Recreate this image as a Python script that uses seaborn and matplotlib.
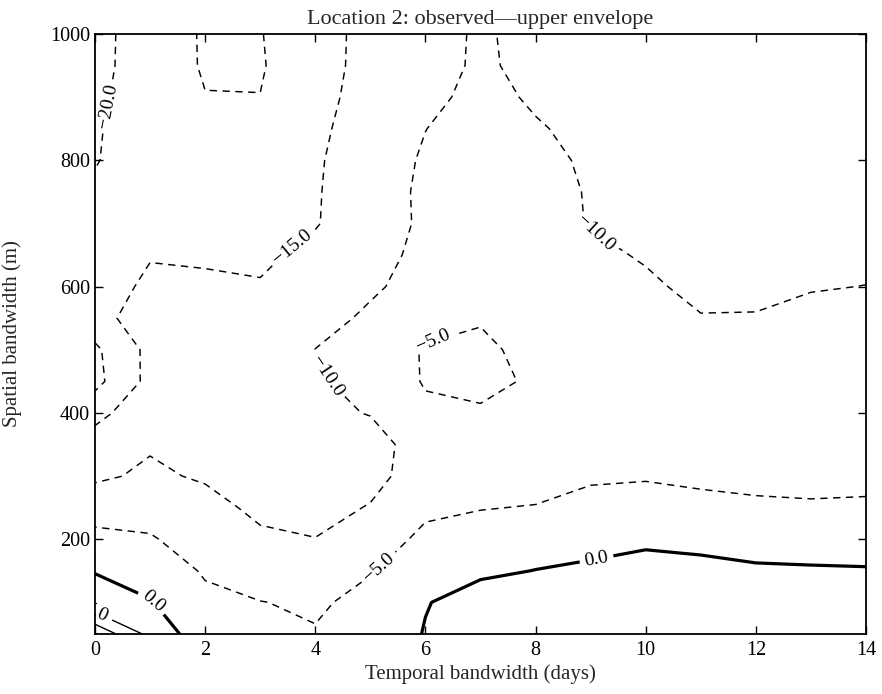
import numpy as np
import matplotlib
matplotlib.use('Agg')
import matplotlib.pyplot as plt
import seaborn as sns

# temporal bandwidth (days) and spatial bandwidth (m) of the grid
days = [0, 1, 2, 3, 4, 5, 6, 7, 8, 9, 10, 11, 12, 13, 14]
bandwidth_m = [50, 100, 150, 200, 250, 300, 350, 400, 450, 500,
               550, 600, 650, 700, 750, 800, 850, 900, 950, 1000]

# observed - upper envelope, one list per temporal bandwidth (bottom to top)
day_0 = [14, 1, -0.1, -3.5, -7.4, -10.7, -12.3, -16.8, -21.4, -20.86, -17, -17.5, -18, -18.5, -19.2, -20.3, -20.6, -21.5, -22, -22]
day_1 = [3.5, 0.3, -2.2, -4.6, -6.8, -9.3, -10.4, -11, -13.6, -13.7, -12, -14.03, -15.3, -16, -16.5, -17, -16.6, -15.9, -16.5, -16.7]
day_2 = [-3, -4, -5.45, -7.1, -8.5, -10.5, -11.2, -11.9, -12.7, -13.4, -14, -14.6, -15.3, -16.5, -17.5, -18.5, -19.2, -19.84, -20.57, -20.6]
day_3 = [-3.5, -4.9, -7.04, -9.2, -11, -11.5, -11.7, -12.3, -12.9, -13.55, -14.2, -14.8, -15.5, -16.5, -17.5, -18.5, -19.3, -19.95, -20.3, -20.1]
day_4 = [-4.73, -5.57, -7.5, -9.95, -10.8, -11.2, -11, -10.5, -10.6, -9.93, -12, -13, -14.3, -15.17, -15.3, -15.6, -16.2, -16.8, -17.5, -18.4]
day_5 = [-3, -3.84, -5.22, -7.3, -9.86, -10.74, -10.9, -9.9, -8.3, -8.1, -9.06, -10.8, -11.5, -13.3, -12.8, -12.07, -12.2, -12.8, -12.95, -12.4]
day_6 = [0.23, -0.2, -3.0, -4.0, -5.85, -8.79, -8.9, -5.86, -4.63, -4.58, -6.68, -7.94, -8.9, -8.9, -8.96, -9.55, -10.05, -11, -11.2, -11.5]
day_7 = [3, 1.62, -0.63, -3.3, -5.15, -6.5, -6.3, -5.4, -4.07, -4.3, -5.27, -6.5, -7.2, -7.5, -7.8, -8.0, -8.4, -8.9, -9.53, -9.5]
day_8 = [3.2, 1.8, 0.07, -1.68, -4.82, -6.62, -7.0, -6.5, -5.48, -6.05, -6.5, -7.0, -7.5, -8.0, -8.5, -9.0, -9.69, -10.47, -10.84, -11.2]
day_9 = [3.3, 2.0, 0.5, -0.97, -3.3, -5.7, -6.5, -6.8, -7.0, -7.3, -7.8, -8.3, -8.92, -10.27, -10.3, -10.54, -10.93, -11.3, -11.6, -11.9]
day_10 = [3.4, 2.3, 1.2, -0.6, -3.5, -5.3, -6.5, -7.2, -7.8, -8.3, -8.8, -9.19, -10.46, -11, -11.3, -11.5, -11.8, -12, -12.2, -12.4]
day_11 = [3.3, 2.2, 0.9, -0.9, -3.6, -6.0, -7.2, -8, -8.7, -9.3, -9.77, -11.2, -11.6, -11.9, -12.1, -12.3, -12.5, -12.7, -12.9, -13]
day_12 = [3.0, 1.8, 0.5, -1.5, -4.2, -6.3, -7.5, -8.3, -8.9, -9.4, -9.8, -10.8, -11.3, -11.7, -12, -12.2, -12.4, -12.6, -12.8, -13]
day_13 = [2.9, 1.7, 0.4, -1.8, -4.5, -6.3, -7.3, -8.0, -8.4, -8.8, -9.09, -10.2, -10.9, -11.3, -11.6, -11.9, -12.1, -12.3, -12.5, -12.7]
day_14 = [2.8, 1.6, 0.3, -2.0, -4.4, -6.1, -7.0, -7.8, -8.4, -9.0, -9.5, -9.95, -10.8, -11.2, -11.5, -11.7, -11.9, -12.1, -12.3, -12.5]

neg_levels = [-20, -15, -10, -5]
zero_level = [0]
pos_levels = [5, 10]

sns.set_style('ticks')
plt.rcParams['font.family'] = ['Liberation Serif', 'DejaVu Serif']
plt.rcParams['lines.dashed_pattern'] = [5.0, 3.8]
plt.rcParams['axes.edgecolor'] = 'black'

grid = np.column_stack([day_0, day_1, day_2, day_3, day_4, day_5, day_6, day_7,
                        day_8, day_9, day_10, day_11, day_12, day_13, day_14])
X, Y = np.meshgrid(days, bandwidth_m)

fig = plt.figure(figsize=(8.82, 6.94), dpi=100)
ax = fig.add_axes([0.1077, 0.0865, 0.8742, 0.8645])


def fmt(v):
    return f'{v:.1f}'.replace('-', '\u2212')


cs = ax.contour(X, Y, grid, levels=neg_levels, colors='k', linewidths=1.05,
                linestyles='dashed')
cs0 = ax.contour(X, Y, grid, levels=zero_level, colors='k', linewidths=2.3)
csp = ax.contour(X, Y, grid, levels=pos_levels, colors='k', linewidths=1.0,
                 linestyles='solid')

ax.clabel(cs, fmt=fmt, fontsize=14, inline=True,
          manual=[(0.25, 885), (3.7, 650), (4.2, 458), (9.1, 685),
                  (6.2, 500), (5.1, 160)])
ax.clabel(cs0, fmt=fmt, fontsize=14, inline=True,
          manual=[(1.0, 97), (9.1, 172)])
ax.clabel(csp, fmt=fmt, fontsize=14, inline=True, manual=[(0.02, 82)])

ax.set_xlim(0, 14)
ax.set_ylim(50, 1000)
ax.set_xticks([0, 2, 4, 6, 8, 10, 12, 14])
ax.set_yticks([200, 400, 600, 800, 1000])
ax.tick_params(direction='in', top=True, right=True, length=6, width=1,
               labelsize=14.5, colors='black')
ax.tick_params(axis='x', pad=5)
ax.tick_params(axis='y', pad=3.5)
for sp in ax.spines.values():
    sp.set_linewidth(1.3)
    sp.set_color('black')

ax.set_xlabel('Temporal bandwidth (days)', fontsize=15, labelpad=3)
ax.set_ylabel('Spatial bandwidth (m)', fontsize=15, labelpad=20)
ax.set_title('Location 2: observed\u2014upper envelope', fontsize=16, pad=7)

fig.savefig('out.png', dpi=100)
